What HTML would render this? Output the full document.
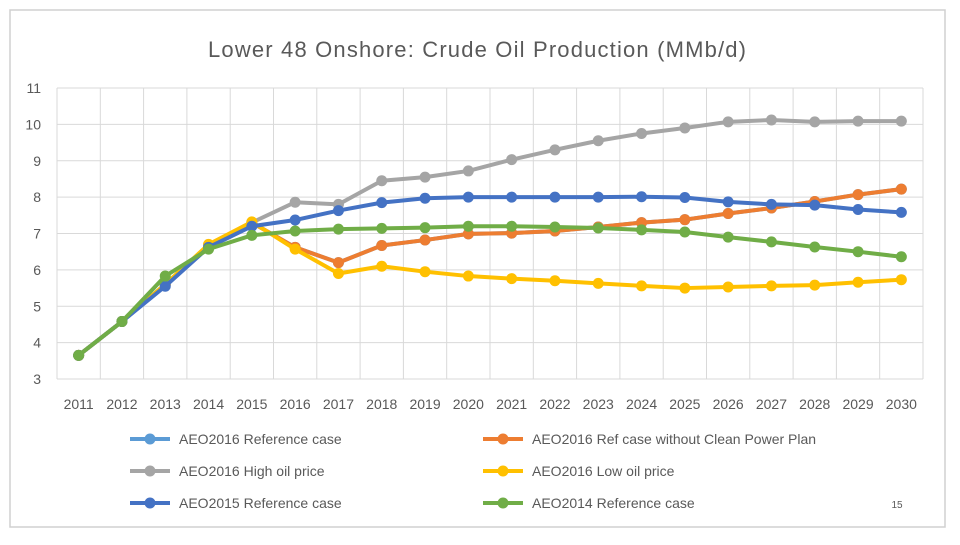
<!DOCTYPE html>
<html><head><meta charset="utf-8"><style>
body{margin:0;background:#fff;font-family:"Liberation Sans",sans-serif}
svg text{font-family:"Liberation Sans",sans-serif;fill:#595959}
</style></head><body>
<svg id="c" width="960" height="540">
<rect x="10" y="10" width="935" height="517" fill="#fff" stroke="#d0d0d0" stroke-width="1.5"/>
<text x="477" y="57" text-anchor="middle" font-size="22" textLength="538" lengthAdjust="spacing">Lower 48 Onshore: Crude Oil Production (MMb/d)</text>
<g id="grid"></g><g id="series"></g><g id="legend"></g>
<text x="897" y="508" font-size="10" text-anchor="middle">15</text>
</svg>
<script>
const years=[2011,2012,2013,2014,2015,2016,2017,2018,2019,2020,2021,2022,2023,2024,2025,2026,2027,2028,2029,2030];
const yTicks=[3,4,5,6,7,8,9,10,11];
const ref2016=[3.65,4.58,5.6,6.65,7.3,6.62,6.2,6.67,6.82,6.99,7.01,7.07,7.18,7.3,7.38,7.55,7.7,7.88,8.07,8.22];
const noCpp=[3.65,4.58,5.6,6.65,7.3,6.62,6.2,6.67,6.82,6.99,7.01,7.07,7.18,7.3,7.38,7.55,7.7,7.88,8.07,8.22];
const highOil=[3.65,4.58,5.6,6.68,7.3,7.86,7.8,8.45,8.55,8.72,9.03,9.3,9.55,9.75,9.9,10.07,10.12,10.07,10.09,10.09];
const lowOil=[3.65,4.58,5.6,6.7,7.32,6.57,5.9,6.1,5.95,5.83,5.76,5.7,5.63,5.56,5.5,5.53,5.56,5.58,5.66,5.73];
const ref2015=[3.65,4.58,5.55,6.62,7.2,7.37,7.63,7.85,7.97,8.0,8.0,8.0,8.0,8.01,7.99,7.87,7.8,7.78,7.66,7.58];
const ref2014=[3.65,4.58,5.83,6.57,6.95,7.07,7.12,7.14,7.16,7.2,7.2,7.18,7.15,7.1,7.04,6.9,6.77,6.63,6.5,6.36];
const seriesNames=["AEO2016 Reference case","AEO2016 Ref case without Clean Power Plan","AEO2016 High oil price","AEO2016 Low oil price","AEO2015 Reference case","AEO2014 Reference case"];
const NS="http://www.w3.org/2000/svg";
const X0=57,X1=923,Y0=379,Y1=88,ymin=3,ymax=11;
const bw=(X1-X0)/years.length;
const xs=i=>X0+bw*(i+0.5);
const ys=v=>Y0-(v-ymin)/(ymax-ymin)*(Y0-Y1);
function mk(t,a,p){const e=document.createElementNS(NS,t);for(const k in a)e.setAttribute(k,a[k]);p.appendChild(e);return e;}
const grid=document.getElementById('grid');
yTicks.forEach(v=>{
 const l=mk('line',{x1:X0,x2:X1,y1:ys(v),y2:ys(v),stroke:'#d9d9d9','stroke-width':1},grid);
 
 
 const t=mk('text',{x:41,y:ys(v)+5,'text-anchor':'end','font-size':14},grid);t.textContent=v;
 
 
});
for(let i=0;i<=years.length;i++){
 const l=mk('line',{x1:X0+bw*i,x2:X0+bw*i,y1:Y1,y2:Y0,stroke:'#d9d9d9','stroke-width':1},grid);
 
 
}
years.forEach((y,i)=>{
 const t=mk('text',{x:xs(i),y:409,'text-anchor':'middle','font-size':14},grid);t.textContent=y;
 
 
});
const data=[ref2016,noCpp,highOil,lowOil,ref2015,ref2014];
const colors=['#5b9bd5','#ed7d31','#a5a5a5','#ffc000','#4472c4','#70ad47'];
const sg=document.getElementById('series');
data.forEach((d,s)=>{
 const g=mk('g',{},sg);
 
 
 const p=mk('polyline',{points:d.map((v,i)=>xs(i)+','+ys(v)).join(' '),fill:'none',stroke:colors[s],'stroke-width':4,'stroke-linejoin':'round'},g);
 
 
 d.forEach((v,i)=>{
  const c=mk('circle',{cx:xs(i),cy:ys(v),r:5.5,fill:colors[s]},g);
  
  
 });
});
const lg=document.getElementById('legend');
const pos=[[130,439],[483,439],[130,471],[483,471],[130,503],[483,503]];
seriesNames.forEach((n,s)=>{
 const [x,y]=pos[s];
 const g=mk('g',{},lg);
 
 
 mk('line',{x1:x,x2:x+40,y1:y,y2:y,stroke:colors[s],'stroke-width':4},g);
 mk('circle',{cx:x+20,cy:y,r:5.5,fill:colors[s]},g);
 const t=mk('text',{x:x+49,y:y+5,'font-size':14},g);t.textContent=n;
});
</script>
</body></html>
